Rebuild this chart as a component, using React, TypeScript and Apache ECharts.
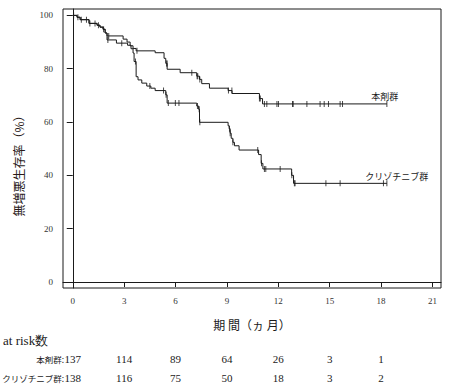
import React, { useEffect, useRef } from "react";
import * as echarts from "echarts";

// Kaplan-Meier step points (time in months, survival %)
const honzaiTimes = [0, 0.25, 0.43, 0.95, 1.42, 1.59, 1.77, 1.89, 2.0, 2.94, 3.17, 3.35, 3.52, 3.7, 4.81, 5.33, 5.43, 5.51, 6.27, 7.24, 7.4, 7.53, 7.98, 9.07, 9.3, 10.9, 11.08, 18.34];
const honzaiSurv = [100, 99.3, 98.4, 97.0, 96.3, 95.6, 94.8, 93.4, 92.3, 91.1, 90.0, 88.6, 87.6, 86.7, 86.0, 83.9, 82.0, 79.8, 78.5, 77.2, 76.0, 74.4, 72.7, 71.8, 70.7, 68.8, 66.8, 66.8];
const crizoTimes = [0, 0.25, 0.43, 0.95, 1.42, 1.59, 1.77, 1.89, 2.0, 2.55, 3.2, 3.4, 3.52, 3.58, 3.7, 3.81, 4.03, 4.32, 4.56, 4.81, 5.43, 5.51, 7.24, 7.35, 7.4, 9.07, 9.13, 9.19, 9.25, 9.35, 9.44, 9.71, 10.85, 11.0, 11.1, 12.78, 12.89, 18.34];
const crizoSurv = [100, 99.3, 98.4, 97.0, 96.3, 95.6, 94.8, 93.4, 90.8, 89.6, 88.8, 87.5, 85.9, 82.7, 77.0, 75.8, 74.6, 73.5, 72.7, 71.8, 70.2, 67.1, 66.0, 64.8, 59.9, 58.6, 57.5, 55.8, 53.9, 52.4, 51.1, 49.5, 47.8, 44.5, 42.4, 40.0, 37.0, 37.0];

// censoring times
const honzaiCensor = [0.05, 0.3, 0.8, 1.3, 1.5, 1.8, 2.1, 3.75, 5.49, 5.5, 6.95, 7.26, 7.3, 7.42, 9.09, 9.29, 10.9, 10.95, 11.19, 11.33, 11.92, 12.01, 12.83, 12.87, 13.67, 14.44, 14.68, 14.93, 15.61, 15.75, 18.34];
const crizoCensor = [0.5, 1.0, 2.05, 2.86, 3.66, 4.5, 5.3, 5.45, 5.58, 5.99, 6.2, 7.28, 7.38, 7.42, 9.15, 9.19, 9.35, 10.8, 11.02, 11.19, 11.27, 12.11, 12.79, 12.94, 12.98, 14.78, 15.61, 18.14, 18.34];

const xTicks = [0, 3, 6, 9, 12, 15, 18, 21];
const yTicks = [0, 20, 40, 60, 80, 100];
const riskMonths = [0, 3, 6, 9, 12, 15, 18];
const honzaiRisk = [137, 114, 89, 64, 26, 3, 1];
const crizoRisk = [138, 116, 75, 50, 18, 3, 2];

const groupNames = ["本剤群", "クリゾチニブ群"];

const serif = "Liberation Serif";
const cjk = "Noto Sans CJK JP";
const ink = "#1a1a1a";

function stepAt(times: number[], surv: number[], t: number) {
  let v = surv[0];
  for (let i = 0; i < times.length; i++) if (times[i] <= t) v = surv[i];
  return v;
}

function txt(x: number, y: number, text: string, family: string, size: number, align: string, extra: any = {}) {
  return {
    type: "text",
    x,
    y,
    ...extra,
    style: { text, fill: extra.fill || ink, fontFamily: family, fontSize: size, align, verticalAlign: "middle" },
  };
}

export default function App() {
  const ref = useRef<HTMLDivElement>(null);
  useEffect(() => {
    if (!ref.current) return;
    const chart = echarts.init(ref.current, null, { renderer: "svg" });
    const lineSeries = (name: string, times: number[], surv: number[]) => ({
      name,
      type: "line",
      step: "end",
      showSymbol: false,
      symbol: "none",
      data: times.map((t, i) => [t, surv[i]]),
      lineStyle: { color: ink, width: 1 },
      silent: true,
    });
    const censorSeries = (times: number[], surv: number[], cens: number[]) => ({
      type: "scatter",
      symbol: "rect",
      symbolSize: [1, 6],
      itemStyle: { color: ink },
      data: cens.map((t) => [t, stepAt(times, surv, t)]),
      silent: true,
    });
    chart.setOption({
      animation: false,
      grid: {
        left: 63,
        top: 9,
        right: 13,
        bottom: 101,
        show: true,
        borderColor: ink,
        borderWidth: 1,
      },
      xAxis: {
        type: "value",
        min: -0.57,
        max: 21.5,
        splitLine: { show: false },
        axisLine: { show: true, lineStyle: { color: ink, width: 1 } },
        axisTick: { show: true, length: 5, customValues: xTicks, lineStyle: { color: ink } },
        axisLabel: {
          customValues: xTicks,
          color: "#333",
          fontFamily: serif,
          fontSize: 9,
          margin: 8,
        },
      },
      yAxis: {
        type: "value",
        min: -2.25,
        max: 102.4,
        splitLine: { show: false },
        axisLine: { show: true, lineStyle: { color: ink, width: 1 } },
        axisTick: { show: true, length: 6, customValues: yTicks, lineStyle: { color: ink } },
        axisLabel: {
          customValues: yTicks,
          color: "#333",
          fontFamily: serif,
          fontSize: 9,
          margin: 10,
        },
      },
      series: [
        lineSeries(groupNames[0], honzaiTimes, honzaiSurv),
        lineSeries(groupNames[1], crizoTimes, crizoSurv),
        censorSeries(honzaiTimes, honzaiSurv, honzaiCensor),
        censorSeries(crizoTimes, crizoSurv, crizoCensor),
      ],
    });

    const px = (t: number) => chart.convertToPixel({ xAxisIndex: 0 }, t) as number;
    const py = (v: number) => chart.convertToPixel({ yAxisIndex: 0 }, v) as number;
    const graphics: any[] = [];
    graphics.push(txt(px(19.0), py(69.5), groupNames[0], cjk, 9, "right"));
    graphics.push(txt(px(20.75), py(39.5), groupNames[1], cjk, 9, "right"));
    graphics.push(txt(252, 324, "期 間（ヵ 月）", cjk, 12, "center"));
    graphics.push(txt(18, 163, "無増悪生存率（%）", cjk, 12, "center", { rotation: Math.PI / 2, fill: "#2a1a1a" }));
    graphics.push(txt(3, 340, "at risk数", serif, 13, "left"));
    const rows = [
      { label: groupNames[0] + ":", vals: honzaiRisk, y: 359 },
      { label: groupNames[1] + ":", vals: crizoRisk, y: 378 },
    ];
    rows.forEach((r) => {
      graphics.push(txt(64, r.y, r.label, cjk, 8.5, "right"));
      r.vals.forEach((v, i) => {
        graphics.push(txt(px(riskMonths[i]), r.y, String(v), serif, 11, "center"));
      });
    });
    chart.setOption({ graphic: graphics });
    return () => chart.dispose();
  }, []);
  return (
    <div
      ref={ref}
      style={{ position: "fixed", left: 0, top: 0, width: 454, height: 389, background: "#fff" }}
    />
  );
}
